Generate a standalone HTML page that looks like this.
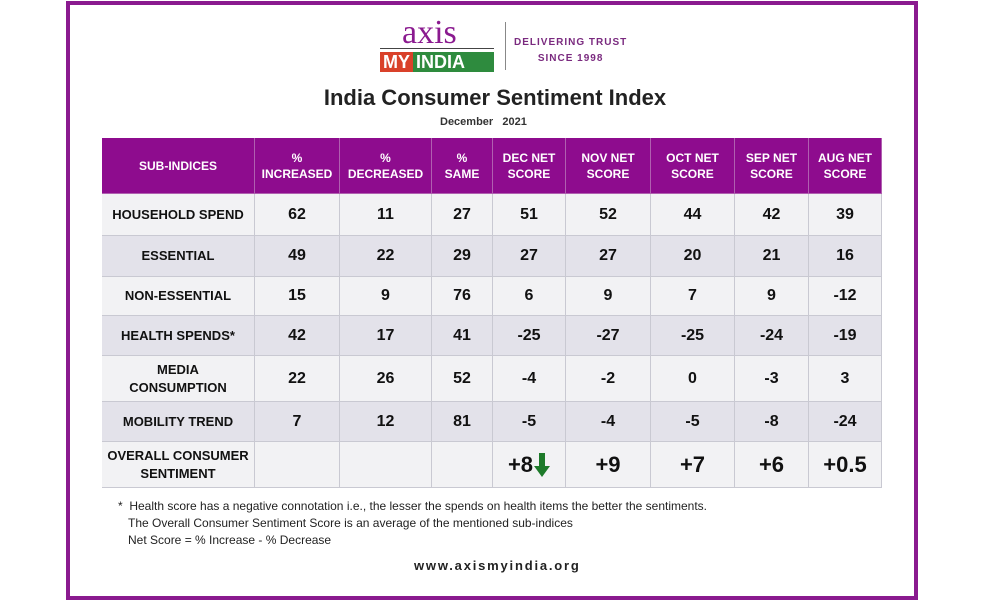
<!DOCTYPE html>
<html><head><meta charset="utf-8"><style>
body{margin:0;width:1000px;height:600px;background:#fff;position:relative;overflow:hidden;font-family:"Liberation Sans",sans-serif;}
.frame{position:absolute;left:66px;top:1px;width:844px;height:591px;border:4px solid #8a1a8f;}
.c{position:absolute;display:flex;align-items:center;justify-content:center;text-align:center;box-sizing:border-box;border-right:1px solid #c9c9d2;border-bottom:1px solid #c9c9d2;font-weight:bold;color:#111;}
.h{background:#8e0c8e;color:#fff;font-size:12px;line-height:16px;border-color:#b060b0;}
.lab{font-size:13px;line-height:18px;}
.num{font-size:16px;}
.big{font-size:22px;}
</style></head><body>
<div class="frame"></div>
<div style="position:absolute;left:380px;top:16px;width:116px;height:58px;">
 <div style="position:absolute;left:22px;top:0;font-family:'Liberation Serif',serif;font-size:34px;color:#8a1a8f;line-height:34px;">axis</div>
 <div style="position:absolute;left:0;top:32px;width:114px;height:1px;background:#444"></div>
 <div style="position:absolute;left:0;top:36px;width:114px;height:20px;display:flex;font-weight:bold;font-size:18px;line-height:20px;color:#fff;">
  <span style="background:#d9412a;padding:0 3px">MY</span><span style="background:#2e8b3e;flex:1;padding-left:3px">INDIA</span></div>
</div>
<div style="position:absolute;left:505px;top:22px;width:1px;height:48px;background:#888"></div>
<div style="position:absolute;left:514px;top:35px;color:#7a2a7f;font-size:10px;font-weight:bold;letter-spacing:1px;text-align:center;line-height:16px;">DELIVERING TRUST<br>SINCE 1998</div>
<div style="position:absolute;left:0;width:990px;top:85px;text-align:center;font-size:22px;font-weight:bold;color:#222;">India Consumer Sentiment Index</div>
<div style="position:absolute;left:440px;top:116px;font-size:11px;font-weight:bold;color:#333;">December&nbsp;&nbsp; 2021</div>
<div id="tbl"></div>
<div style="position:absolute;left:118px;top:498px;font-size:12px;line-height:17px;color:#222;">* &nbsp;Health score has a negative connotation i.e., the lesser the spends on health items the better the sentiments.<br>&nbsp;&nbsp;&nbsp;The Overall Consumer Sentiment Score is an average of the mentioned sub-indices<br>&nbsp;&nbsp;&nbsp;Net Score = % Increase - % Decrease</div>
<div style="position:absolute;left:414px;top:558px;font-size:13px;font-weight:bold;letter-spacing:1.8px;color:#222;">www.axismyindia.org</div>
<script>
const headers=["SUB-INDICES","%<br>INCREASED","%<br>DECREASED","%<br>SAME","DEC NET<br>SCORE","NOV NET<br>SCORE","OCT NET<br>SCORE","SEP NET<br>SCORE","AUG NET<br>SCORE"];
const rowLabels=["HOUSEHOLD SPEND","ESSENTIAL","NON-ESSENTIAL","HEALTH SPENDS*","MEDIA<br>CONSUMPTION","MOBILITY TREND","OVERALL CONSUMER<br>SENTIMENT"];
const increased=[62,49,15,42,22,7,""];
const decreased=[11,22,9,17,26,12,""];
const same=[27,29,76,41,52,81,""];
const dec=[51,27,6,-25,-4,-5,"+8"];
const nov=[52,27,9,-27,-2,-4,"+9"];
const oct=[44,20,7,-25,0,-5,"+7"];
const sep=[42,21,9,-24,-3,-8,"+6"];
const aug=[39,16,-12,-19,3,-24,"+0.5"];
const colX=[102,255,340,432,493,566,651,735,809,882];
const rowY=[138,194,236,277,316,356,402,442,488];
const cols=[null,increased,decreased,same,dec,nov,oct,sep,aug];
const tbl=document.getElementById('tbl');
function cell(x,y,w,h,html,cls,bg){const d=document.createElement('div');d.className='c '+cls;d.style.left=x+'px';d.style.top=y+'px';d.style.width=w+'px';d.style.height=h+'px';if(bg)d.style.background=bg;d.innerHTML=html;tbl.appendChild(d);return d;}
headers.forEach((t,i)=>{const d=cell(colX[i],rowY[0],colX[i+1]-colX[i],rowY[1]-rowY[0],t,'h');

});
rowLabels.forEach((lab,r)=>{const y=rowY[r+1],h=rowY[r+2]-y;const bg=(r%2==0)?'#f2f2f4':'#e3e2ea';
const last=r==rowLabels.length-1;
const l=cell(colX[0],y,colX[1]-colX[0],h,lab,'lab',last?'#f2f2f4':bg);


for(let c=1;c<cols.length;c++){let v=cols[c][r];let html=String(v);
if(last&&c==4)html=v+'<svg width="16" height="24" viewBox="0 0 16 24" style="margin-left:1px"><path d="M5 0H11V13H16L8 24L0 13H5Z" fill="#1d7a2a"/></svg>';
const d=cell(colX[c],y,colX[c+1]-colX[c],h,html,last?'big':'num',last?'#f2f2f4':bg);

}});
</script>
</body></html>
